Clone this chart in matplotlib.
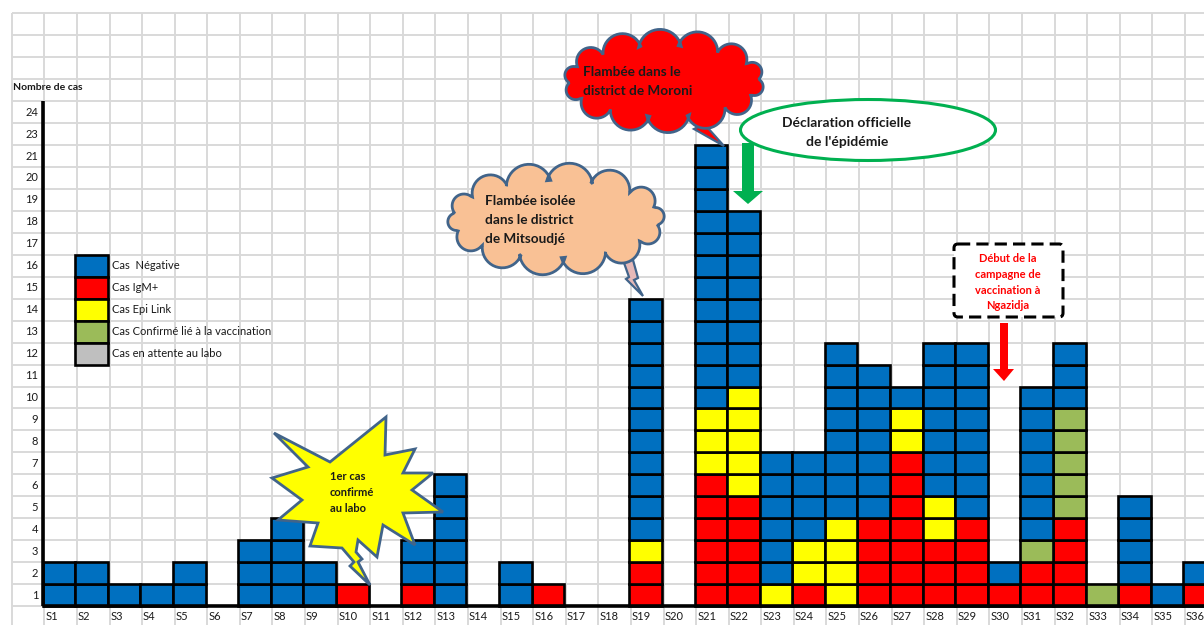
import numpy as np
import matplotlib
matplotlib.use("Agg")
import matplotlib.pyplot as plt
from matplotlib.patches import Polygon, Rectangle, Ellipse, FancyBboxPatch

plt.rcParams['font.family'] = ['Lato', 'DejaVu Sans']

# ---------------- data ----------------
weeks = [f"S{i}" for i in range(1, 37)]
cas_igm = [0, 0, 0, 0, 0, 0, 0, 0, 0, 1, 0, 1, 0, 0, 0, 1, 0, 0, 2, 0,
           6, 5, 0, 1, 0, 4, 7, 3, 4, 1, 2, 4, 0, 1, 0, 1]
cas_epi = [0, 0, 0, 0, 0, 0, 0, 0, 0, 0, 0, 0, 0, 0, 0, 0, 0, 0, 1, 0,
           3, 5, 1, 2, 4, 0, 2, 2, 0, 0, 0, 0, 0, 0, 0, 0]
cas_vacc = [0, 0, 0, 0, 0, 0, 0, 0, 0, 0, 0, 0, 0, 0, 0, 0, 0, 0, 0, 0,
            0, 0, 0, 0, 0, 0, 0, 0, 0, 0, 1, 5, 1, 0, 0, 0]
cas_neg = [2, 2, 1, 1, 2, 0, 3, 4, 2, 0, 0, 2, 6, 0, 2, 0, 0, 0, 11, 0,
           12, 8, 6, 4, 8, 7, 1, 7, 8, 1, 7, 3, 0, 4, 1, 1]
cas_att = [0] * 36

y_labels = [str(v) for v in range(1, 22)] + ["23", "24"]

series_names = ["Cas IgM+", "Cas Epi Link", "Cas Confirmé lié à la vaccination",
                "Cas  Négative", "Cas en attente au labo"]
series_vals = [cas_igm, cas_epi, cas_vacc, cas_neg, cas_att]
series_cols = ["#FF0000", "#FFFF00", "#9BBB59", "#0070C0", "#BFBFBF"]

legend_order = ["Cas  Négative", "Cas IgM+", "Cas Epi Link",
                "Cas Confirmé lié à la vaccination", "Cas en attente au labo"]

# ---------------- figure ----------------
W, H = 1204, 625
fig = plt.figure(figsize=(W / 100, H / 100), dpi=100)
ax = fig.add_axes([0, 0, 1, 1])
colw, rowh, x0px, y0px = 32.59, 21.95, 42.7, 606.0
ax.set_xlim(0.5 - x0px / colw, 0.5 + (W - x0px) / colw)
ax.set_ylim(-(H - y0px) / rowh, y0px / rowh)
ax.axis('off')

grid_c = "#D9D9D9"
ytop = 27
ax.hlines(np.arange(0, ytop + 1), -0.45, 37, color=grid_c, lw=1.4, zorder=0)
ax.vlines(np.arange(-0.45, 37, 1), -1, ytop, color=grid_c, lw=1.4, zorder=0)

# stacked cells
x = np.arange(1, 37)
bottom = np.zeros(36)
for vals, col in zip(series_vals, series_cols):
    xs, bs = [], []
    for i, v in enumerate(vals):
        for j in range(v):
            xs.append(x[i])
            bs.append(bottom[i] + j)
    if xs:
        ax.bar(xs, 1, bottom=bs, width=1, color=col, edgecolor='black',
               linewidth=1.9, zorder=3)
    bottom += np.array(vals)

# axes lines
ax.plot([0.5, 0.5], [0, 23], color='black', lw=2.6, zorder=4, solid_capstyle='butt')
ax.plot([0.5, 37], [0, 0], color='black', lw=2.6, zorder=4, solid_capstyle='butt')

# tick labels
txtc = "#1a1a1a"
for i, w in enumerate(weeks):
    ax.text(x[i] - 0.42, -0.5, w, ha='left', va='center', fontsize=8, color=txtc)
for k, lab in enumerate(y_labels):
    ax.text(0.36, k + 0.5, lab, ha='right', va='center', fontsize=8, color=txtc)
ax.text(-0.42, 23.6, "Nombre de cas", ha='left', va='center', fontsize=7.5,
        fontweight='bold', color=txtc)

# legend (grid-cell style)
col_of = dict(zip(series_names, series_cols))
for r, name in enumerate(legend_order):
    yb = 15 - r
    ax.add_patch(Rectangle((1.5, yb), 1, 1, facecolor=col_of[name],
                           edgecolor='black', lw=1.9, zorder=3))
    ax.text(2.63, yb + 0.5, name, ha='left', va='center', fontsize=8, color=txtc)

# ---------------- annotations overlay (pixel coords) ----------------
an = fig.add_axes([0, 0, 1, 1])
an.set_xlim(0, W)
an.set_ylim(H, 0)
an.axis('off')
an.patch.set_alpha(0)

edge_bl = "#41648A"


def cloud_poly(cx, cy, a, b, n, offset=0.3, dfac=0.2):
    th = np.linspace(0, 2 * np.pi, n + 1) + offset
    pts = np.c_[cx + a * np.cos(th), cy + b * np.sin(th)]
    verts = []
    for j in range(n):
        p0, p1 = pts[j], pts[j + 1]
        mid = (p0 + p1) / 2
        L = np.linalg.norm(p1 - p0)
        nrm = mid - np.array([cx, cy])
        nrm /= np.linalg.norm(nrm)
        d = dfac * L / 2
        c = mid - nrm * d
        r = np.hypot(L / 2, d)
        f0 = np.arctan2(*(p0 - c)[::-1])
        f1 = np.arctan2(*(p1 - c)[::-1])
        fn = np.arctan2(nrm[1], nrm[0])
        delta = (f1 - f0) % (2 * np.pi)
        if ((fn - f0) % (2 * np.pi)) < delta:
            fs = np.linspace(f0, f0 + delta, 20)
        else:
            fs = np.linspace(f0, f0 + delta - 2 * np.pi, 20)
        verts.extend(np.c_[c[0] + r * np.cos(fs), c[1] + r * np.sin(fs)])
    return np.array(verts)


# peach cloud (Mitsoudjé)
an.add_patch(Polygon([(623, 260), (629, 277), (626, 279), (643, 296), (634, 280),
                      (638, 278), (633, 260)], closed=True, facecolor="#E6B9B8",
                     edgecolor=edge_bl, lw=1.6, zorder=2))
an.add_patch(Polygon(cloud_poly(556, 219, 104, 38, 14, 0.15), closed=True,
                     facecolor="#F9C195", edgecolor=edge_bl, lw=2.0, zorder=3))
for k, t in enumerate(["Flambée isolée", "dans le district", "de Mitsoudjé"]):
    an.text(485, 201 + 19 * k, t, ha='left', va='center', fontsize=9.8,
            fontweight='bold', color='#1a1a1a', zorder=5)

# red cloud (Moroni)
an.add_patch(Polygon([(690, 108), (698, 127), (694, 129), (724, 146), (707, 127),
                      (711, 125), (702, 108)], closed=True, facecolor="#FF0000",
                     edgecolor=edge_bl, lw=1.6, zorder=2))
an.add_patch(Polygon(cloud_poly(664, 81, 96, 35, 14, 0.4), closed=True,
                     facecolor="#FF0000", edgecolor=edge_bl, lw=2.0, zorder=3))
for k, t in enumerate(["Flambée dans le", "district de Moroni"]):
    an.text(583, 72 + 19 * k, t, ha='left', va='center', fontsize=9.8,
            fontweight='bold', color='#1a1a1a', zorder=5)

# star explosion
star = [(274, 433), (330, 462), (386, 417), (385, 455), (415, 449), (403, 473),
        (433, 473), (412, 490), (443, 512), (403, 513), (415, 545), (383, 525),
        (377, 557), (358, 540),
        (356, 552), (362, 559), (358, 562), (370, 585), (350, 566), (354, 562),
        (342, 548),
        (310, 546), (318, 523), (278, 520), (302, 500), (272, 478), (308, 467)]
an.add_patch(Polygon(star, closed=True, facecolor="#FFFF00", edgecolor=edge_bl,
                     lw=2.0, zorder=3, joinstyle='miter'))
for k, t in enumerate(["1er cas", "confirmé", "au labo"]):
    an.text(330, 477 + 15.5 * k, t, ha='left', va='center', fontsize=8,
            fontweight='bold', color='#1a1a1a', zorder=5)

# green ellipse + arrow
an.add_patch(Ellipse((868, 130), 255, 61, facecolor='white', edgecolor="#00B050",
                     lw=2.2, zorder=3))
for k, t in enumerate(["Déclaration officielle", "de l'épidémie"]):
    an.text(847, 123 + 19 * k, t, ha='center', va='center', fontsize=10,
            fontweight='bold', color='#1a1a1a', zorder=5)
an.add_patch(Polygon([(742, 143), (754, 143), (754, 191), (763, 191), (748, 204),
                      (733, 191), (742, 191)], closed=True, facecolor="#00B050",
                     edgecolor='none', zorder=2))

# dashed box + red arrow
an.add_patch(FancyBboxPatch((954, 244), 109, 73, boxstyle="round,pad=0,rounding_size=4",
                            facecolor='white', edgecolor='black', lw=2.2,
                            linestyle=(0, (4, 2)), zorder=3))
for k, t in enumerate(["Début de la", "campagne de", "vaccination à", "Ngazidja"]):
    an.text(1008, 259 + 15.5 * k, t, ha='center', va='center', fontsize=8,
            fontweight='bold', color='#FF0000', zorder=5)
an.add_patch(Polygon([(1000, 323), (1008, 323), (1008, 369), (1014, 369), (1004, 381),
                      (993, 369), (1000, 369)], closed=True, facecolor="#FF0000",
                     edgecolor='none', zorder=2))

fig.savefig("out.png", dpi=100)
